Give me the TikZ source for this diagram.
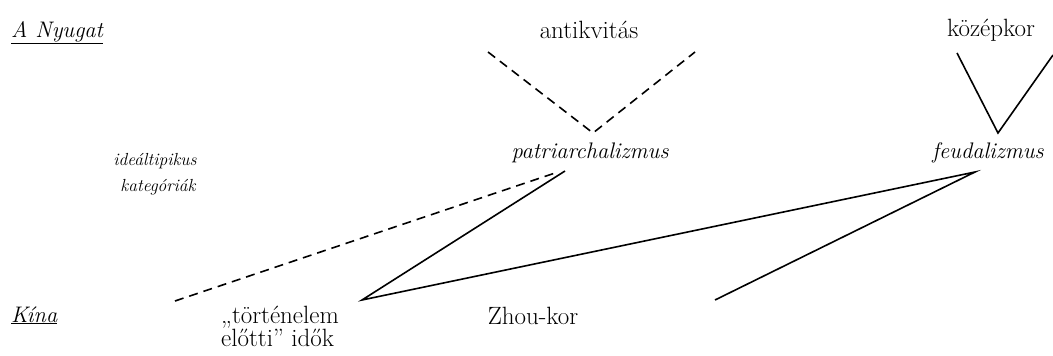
\documentclass[tikz,border=0pt]{standalone}
\usepackage{fontspec}
\begin{document}
\begin{tikzpicture}[x=1pt,y=-1pt,
  lbl/.style={inner sep=0pt,font=\fontsize{25}{22}\selectfont},
  ilbl/.style={inner sep=0pt,font=\fontsize{22.5}{21}\selectfont\itshape},
  small/.style={inner sep=0pt,font=\fontsize{17.5}{26}\selectfont\itshape,align=center},
  solidline/.style={line width=1.6pt},
  dashline/.style={line width=1.6pt,dash pattern=on 9pt off 6pt}]
\useasboundingbox (0,0) rectangle (1053,356);
% labels
\node[ilbl,anchor=base west] (ny) at (11,37) {\underline{A Nyugat}};
\node[ilbl,anchor=base west] (kina) at (11,322) {\underline{Kína}};
\node[lbl] (ant) at (589,30) {antikvitás};
\node[lbl] (koz) at (991,30) {középkor};
\node[ilbl] (pat) at (590,153) {patriarchalizmus};
\node[ilbl] (feu) at (988,153) {feudalizmus};
\node[small] (ideal) at (155,174) {ideáltipikus\\\hspace*{6pt}kategóriák};
\node[lbl,align=left,anchor=north west] (tort) at (221,306) {„történelem\\előtti” idők};
\node[lbl,anchor=base] (zhou) at (533,324) {Zhou-kor};
% coordinates
\coordinate (aL) at (488,52);
\coordinate (aB) at (593,133);
\coordinate (aR) at (695,52);
\coordinate (kL) at (957,53);
\coordinate (kB) at (998,133);
\coordinate (kR) at (1053,55);
\coordinate (pB) at (565,171);
\coordinate (pD) at (558,172);
\coordinate (fB) at (975,172);
\coordinate (dS) at (175,301);
\coordinate (tV) at (362,300);
\coordinate (zE) at (715,300);
% connectors
\draw[dashline] (aL) -- (aB) -- (aR);
\draw[solidline] (kL) -- (kB) -- (kR);
\draw[dashline] (dS) -- (pD);
\draw[solidline] (pB) -- (tV) -- (fB) -- (zE);
\end{tikzpicture}
\end{document}
